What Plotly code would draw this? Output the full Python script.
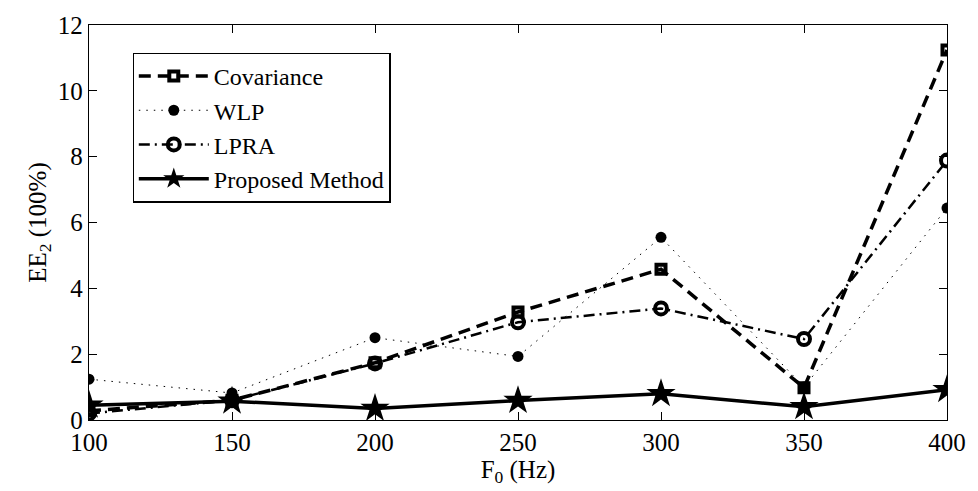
import plotly.graph_objects as go

f0 = [100, 150, 200, 250, 300, 350, 400]
covariance = [0.28, 0.6, 1.74, 3.28, 4.58, 0.98, 11.24]
wlp = [1.24, 0.82, 2.5, 1.93, 5.55, 1.0, 6.44]
lpra = [0.2, 0.6, 1.72, 2.97, 3.39, 2.46, 7.88]
proposed = [0.45, 0.57, 0.35, 0.59, 0.8, 0.4, 0.92]

x_ticks = [100, 150, 200, 250, 300, 350, 400]
y_ticks = [0, 2, 4, 6, 8, 10, 12]

FONT = "Liberation Serif, Times New Roman, serif"

fig = go.Figure()
fig.add_trace(go.Scatter(
    x=f0, y=covariance, name="Covariance", mode="lines+markers",
    line=dict(color="black", width=3.5, dash="12px,7px"),
    marker=dict(symbol="square-open", size=9, color="black", line=dict(width=4, color="black")),
))
fig.add_trace(go.Scatter(
    x=f0, y=wlp, name="WLP", mode="lines+markers",
    line=dict(color="black", width=1, dash="1.5px,6px"),
    marker=dict(symbol="circle", size=11, color="black"),
))
fig.add_trace(go.Scatter(
    x=f0, y=lpra, name="LPRA", mode="lines+markers",
    line=dict(color="black", width=2.5, dash="11px,5px,2px,5px"),
    marker=dict(symbol="circle-open", size=12, color="black", line=dict(width=4, color="black")),
))
fig.add_trace(go.Scatter(
    x=f0, y=proposed, name="Proposed Method", mode="lines+markers",
    line=dict(color="black", width=3.5),
    marker=dict(symbol="star", size=22, color="black"),
))

fig.update_layout(
    width=978, height=491,
    margin=dict(l=89, r=21, t=16, b=71),
    paper_bgcolor="white", plot_bgcolor="white",
    font=dict(family=FONT, size=25, color="black"),
    showlegend=True,
    legend=dict(
        x=0.0507, y=0.93, xanchor="left", yanchor="top",
        bgcolor="white", bordercolor="black", borderwidth=1.3,
        font=dict(family=FONT, size=24, color="black"),
        itemwidth=70, tracegroupgap=0,
    ),
    xaxis=dict(
        range=[100, 400], tickvals=x_ticks, ticks="inside", ticklen=8,
        tickcolor="black", tickwidth=1, showline=True, linecolor="black", linewidth=1.3,
        mirror="ticks", showgrid=False, zeroline=False,
        tickfont=dict(family=FONT, size=25),
        title=dict(text="F<sub>0</sub> (Hz)", font=dict(family=FONT, size=25), standoff=0),
    ),
    yaxis=dict(
        range=[0, 12], tickvals=y_ticks, ticks="inside", ticklen=8,
        tickcolor="black", tickwidth=1, showline=True, linecolor="black", linewidth=1.3,
        mirror="ticks", showgrid=False, zeroline=False,
        tickfont=dict(family=FONT, size=25),
        title=dict(text="EE<sub>2</sub> (100%)", font=dict(family=FONT, size=25), standoff=4),
    ),
)

fig.write_html("out.html")
